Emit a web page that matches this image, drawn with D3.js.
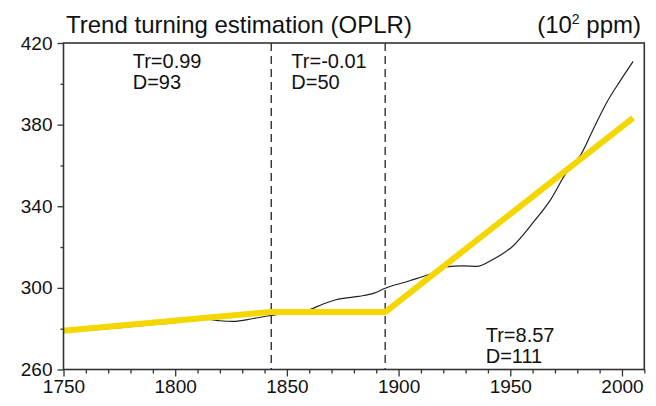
<!DOCTYPE html>
<html>
<head>
<meta charset="utf-8">
<script src="https://cdn.jsdelivr.net/npm/d3@7"></script>
<style>
  html, body { margin: 0; padding: 0; background: #fff; }
  svg { display: block; }
  text { font-family: "Liberation Sans", Arial, Helvetica, sans-serif; fill: #111; }
</style>
</head>
<body>
<svg id="chart" width="656" height="406"></svg>
<script>
// Observed concentration series (years, values)
const obsYears = [1750, 1760, 1770, 1780, 1790, 1800, 1810, 1815, 1820, 1826, 1835, 1843,
  1853, 1860, 1866, 1872, 1882, 1889, 1894, 1905, 1915, 1921, 1929, 1935, 1942, 1951,
  1960, 1968, 1975, 1978, 1981, 1987, 1993, 1999, 2005];
const obsValues = [278.3, 279.2, 280.0, 281.0, 282.0, 283.0, 284.6, 284.6, 283.9, 283.6, 285.0, 286.5,
  288.0, 289.3, 292.0, 294.2, 295.8, 297.4, 299.8, 303.5, 307.2, 310.3, 310.8, 310.5, 313.8, 320.3,
  331.7, 343.1, 356.2, 360.5, 364.3, 377.4, 390.5, 401.1, 411.0];

// Piecewise linear trend fit: breakpoints and fitted values
const fitYears = [1750, 1843, 1894, 2005];
const fitValues = [279.0, 288.2, 288.15, 383.3];

// Segment annotations
const segTr = ["Tr=0.99", "Tr=-0.01", "Tr=8.57"];
const segD = ["D=93", "D=50", "D=111"];
const segAnchorYears = [1781, 1852, 1939];
const segRows = ["top", "top", "bottom"];
const turningYears = [1843, 1894];

const xMajor = [1750, 1800, 1850, 1900, 1950, 2000];
const yMajor = [260, 300, 340, 380, 420];

const svg = d3.select("#chart");
const mLeft = 63.5, mRight = 644.3, mTop = 43, mBottom = 369.5;

const x = d3.scaleLinear().domain([1750, 2010]).range([mLeft, mRight]);
const y = d3.scaleLinear().domain([260, 420]).range([mBottom, mTop]);

// minor ticks every 10 years / 20 units
const xMinor = d3.range(1750, 2011, 10).filter(v => !xMajor.includes(v));
const yMinor = d3.range(260, 421, 20).filter(v => !yMajor.includes(v));

// axes
const gx = svg.append("g").attr("transform", `translate(0,${mBottom})`);
gx.call(d3.axisBottom(x).tickValues(xMinor).tickSize(4).tickFormat(""));
gx.append("g").call(d3.axisBottom(x).tickValues(xMajor).tickSize(7).tickPadding(3).tickFormat(d3.format("d")));
gx.selectAll("path.domain").remove();

const gy = svg.append("g").attr("transform", `translate(${mLeft},0)`);
gy.call(d3.axisLeft(y).tickValues(yMinor).tickSize(3).tickFormat(""));
gy.append("g").call(d3.axisLeft(y).tickValues(yMajor).tickSize(6).tickPadding(5).tickFormat(d3.format("d")));
gy.selectAll("path.domain").remove();

svg.selectAll(".tick line").attr("stroke", "#333").attr("stroke-width", 1.3);
svg.selectAll(".tick text").attr("font-size", 19).attr("fill", "#111")
  .style("font-family", '"Liberation Sans", Arial, sans-serif');

// turning-point dashed lines
svg.selectAll("line.turn").data(turningYears).join("line")
  .attr("class", "turn")
  .attr("x1", d => x(d)).attr("x2", d => x(d))
  .attr("y1", mTop).attr("y2", mBottom)
  .attr("stroke", "#222").attr("stroke-width", 1.3)
  .attr("stroke-dasharray", "8,5");

// observed series
const obs = obsYears.map((yr, i) => [yr, obsValues[i]]);
svg.append("path")
  .datum(obs)
  .attr("fill", "none")
  .attr("stroke", "#222")
  .attr("stroke-width", 1.2)
  .attr("d", d3.line().x(d => x(d[0])).y(d => y(d[1])).curve(d3.curveMonotoneX));

// piecewise trend fit
const fit = fitYears.map((yr, i) => [yr, fitValues[i]]);
svg.append("path")
  .datum(fit)
  .attr("fill", "none")
  .attr("stroke", "#f4d600")
  .attr("stroke-width", 6)
  .attr("stroke-linejoin", "round")
  .attr("d", d3.line().x(d => x(d[0])).y(d => y(d[1])));

// frame
svg.append("rect")
  .attr("x", mLeft).attr("y", mTop)
  .attr("width", mRight - mLeft).attr("height", mBottom - mTop)
  .attr("fill", "none").attr("stroke", "#333").attr("stroke-width", 1.6);

// segment annotations (two stacked lines each)
const ann = svg.append("g").attr("font-size", 20);
segTr.forEach((tr, i) => {
  const base = segRows[i] === "top" ? 67.5 : 342;
  const t = ann.append("text").attr("x", x(segAnchorYears[i])).attr("y", base);
  t.append("tspan").text(tr);
  t.append("tspan").attr("x", x(segAnchorYears[i])).attr("dy", 21).text(segD[i]);
});

// titles
svg.append("text")
  .attr("x", 66).attr("y", 32.5)
  .attr("font-size", 24)
  .text("Trend turning estimation (OPLR)");

const unit = svg.append("text")
  .attr("x", 641).attr("y", 32.5)
  .attr("text-anchor", "end")
  .attr("font-size", 24);
unit.append("tspan").text("(10");
unit.append("tspan").attr("font-size", 14).attr("dy", -9).text("2");
unit.append("tspan").attr("dy", 9).text(" ppm)");
</script>
</body>
</html>
